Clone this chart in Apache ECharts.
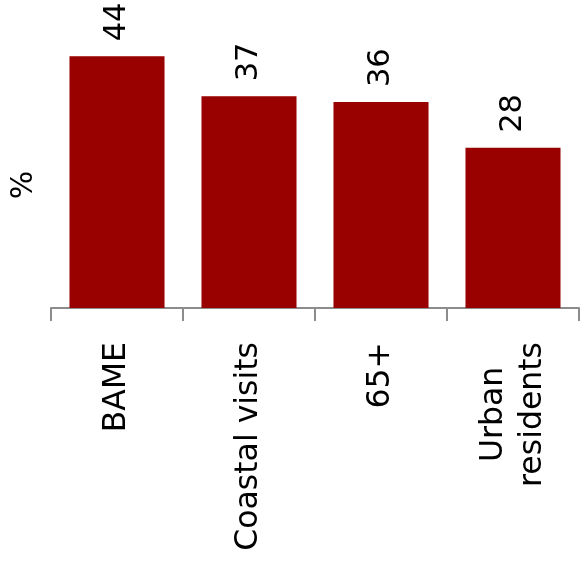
<!DOCTYPE html>
<html>
<head>
<meta charset="utf-8">
<script src="https://cdn.jsdelivr.net/npm/echarts@6/dist/echarts.min.js"></script>
<style>html,body{margin:0;padding:0;background:#fff}#c{width:586px;height:562px}</style>
</head>
<body>
<div id="c"></div>
<script>
const categories = ['BAME', 'Coastal visits', '65+', 'Urban\nresidents'];
const values = [44, 37, 36, 28];
const yAxisName = '%';

const FONT = 'DejaVu Sans';
const chart = echarts.init(document.getElementById('c'), null, {renderer: 'canvas'});
chart.setOption({
  animation: false,
  backgroundColor: '#ffffff',
  grid: {left: 51, right: 7, top: 22, bottom: 254, containLabel: false},
  xAxis: {
    type: 'category',
    data: categories,
    boundaryGap: true,
    axisLine: {show: true, lineStyle: {color: '#8c8c8c', width: 2}},
    axisTick: {show: true, alignWithLabel: false, length: 13, lineStyle: {color: '#8c8c8c', width: 2}},
    axisLabel: {
      interval: 0,
      rotate: 90,
      margin: 34,
      color: '#000',
      fontFamily: FONT,
      fontSize: 31.5,
      formatter: function (v) {
        return v.split('\n').map(function (s) { return '{c|' + s + '}'; }).join('\n');
      },
      rich: {c: {align: 'center', fontFamily: FONT, fontSize: 31.5, lineHeight: 39, color: '#000'}}
    }
  },
  yAxis: {
    type: 'value',
    min: 0,
    max: 50,
    name: yAxisName,
    nameLocation: 'middle',
    nameRotate: 90,
    nameGap: 12,
    nameTextStyle: {color: '#000', fontFamily: FONT, fontSize: 30, padding: [0, 40, 0, 0]},
    axisLine: {show: false},
    axisTick: {show: false},
    axisLabel: {show: false},
    splitLine: {show: false}
  },
  series: [{
    type: 'bar',
    data: values,
    barCategoryGap: '28%',
    itemStyle: {color: '#990000'},
    label: {
      show: true,
      position: 'top',
      rotate: 90,
      align: 'left',
      verticalAlign: 'middle',
      distance: 15,
      color: '#000',
      fontFamily: FONT,
      fontSize: 30.5
    }
  }]
});
</script>
</body>
</html>
